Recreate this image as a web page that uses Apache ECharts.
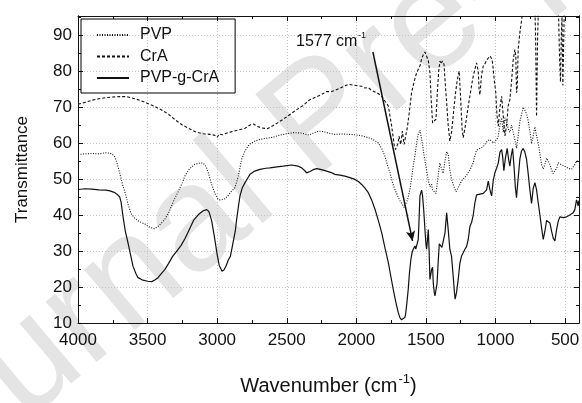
<!DOCTYPE html>
<html>
<head>
<meta charset="utf-8">
<script src="https://cdn.jsdelivr.net/npm/echarts@6/dist/echarts.min.js"></script>
<style>
  html, body { margin: 0; padding: 0; background: #fff; }
  #chart { width: 582px; height: 403px; }
</style>
</head>
<body>
<div id="chart"></div>
<script>
// FTIR spectra: [wavenumber (cm-1), transmittance]
const pvp = [
  [4000,56.8],[3950,57],[3900,57.1],[3850,57],[3800,57.3],[3770,57.2],[3740,56.5],[3720,54.5],[3700,51.6],
  [3680,48.5],[3660,46],[3640,43],[3620,40.5],[3590,39],[3560,38.2],[3520,37.5],[3480,36.5],[3450,36.2],
  [3420,37],[3380,38.6],[3350,40.5],[3310,44.2],[3280,46.5],[3250,49],[3230,51],[3200,52.8],[3160,54.1],
  [3120,54.5],[3100,54.4],[3080,53.5],[3064,51.8],[3040,48.5],[3016,46],[2995,44.5],[2980,44.2],[2960,44.3],
  [2944,44.5],[2920,45.5],[2900,46.5],[2872,47.6],[2848,50.8],[2824,55.5],[2800,57.8],[2770,59.6],[2730,60.5],
  [2693,61],[2650,61.3],[2600,61.6],[2550,62.2],[2500,62.6],[2450,62.9],[2400,62.8],[2370,62.5],[2357,62],
  [2340,62.2],[2300,62.9],[2270,63.3],[2240,63.2],[2213,62.9],[2180,62.6],[2154,62.4],[2100,62.5],[2050,62.4],
  [2010,62.3],[1960,62],[1914,61.5],[1880,61],[1842,60],[1818,58.5],[1795,56.4],[1770,53],[1758,51.8],
  [1740,49],[1722,47],[1705,45.5],[1687,44],[1670,43],[1656,42.1],[1645,42.3],[1630,44.5],[1615,47.1],
  [1600,51],[1590,54],[1579,56.4],[1565,60.5],[1555,62.5],[1543,63.6],[1530,61],[1519,58],[1507,55],
  [1495,52.5],[1483,49.5],[1471,47.9],[1459,48.5],[1452,47],[1440,46.5],[1428,46],[1415,50],[1400,54.4],
  [1388,53],[1376,51.6],[1363,55],[1351,57.6],[1340,57],[1328,52.5],[1316,50],[1300,48],[1284,46.5],
  [1270,47],[1256,48.5],[1244,49.5],[1230,50],[1208,51],[1196,51.8],[1184,52.5],[1172,53.5],[1160,54.5],
  [1148,56.5],[1136,58],[1124,58.5],[1112,58.5],[1100,58.8],[1088,59],[1076,59.5],[1064,60.3],[1052,60.6],
  [1040,61],[1028,61],[1016,60],[1004,59.5],[990,61],[980,62],[968,65],[956,67],[944,63],[932,67],
  [920,66],[909,64],[897,63],[885,65],[873,63],[861,61],[849,58.5],[837,62],[825,66],[813,68],[800,70],
  [788,70.5],[776,68],[764,66],[752,63],[741,59.8],[729,62],[717,64.5],[705,62],[693,60],[681,57],
  [669,54],[657,52.8],[645,54],[633,55.8],[621,55],[609,54],[597,52.5],[585,51.5],[573,51.3],[561,53],
  [549,54.5],[537,54.5],[525,54],[513,54],[501,53.5],[489,53.2],[477,53],[466,52.8],[454,52.7],[442,53],
  [430,54],[418,55],[406,55.3],[400,55]
];

const cra = [
  [4000,70.8],[3950,71.3],[3900,71.9],[3850,72.3],[3800,72.6],[3750,72.8],[3700,72.9],[3650,72.9],[3600,72.4],
  [3550,71.8],[3500,71],[3450,70.2],[3400,69.2],[3350,68],[3300,66.4],[3250,65],[3200,64],[3150,63],
  [3100,62.6],[3050,62.4],[3020,62.2],[3000,61.6],[2985,62.5],[2960,62.3],[2930,62.8],[2900,63.1],[2850,63.6],
  [2800,64.1],[2760,65.1],[2740,65.3],[2710,64.6],[2680,64.2],[2640,64],[2600,64.8],[2570,65.5],[2530,66.5],
  [2500,67.3],[2460,68.4],[2420,69.5],[2380,70.5],[2340,71.9],[2290,72.8],[2250,73.5],[2213,74.3],[2180,74.3],
  [2154,74.6],[2100,75.6],[2058,76.3],[2020,76.1],[1990,75.9],[1962,75.8],[1940,75.3],[1914,75.4],[1890,74.6],
  [1866,74.2],[1840,73.7],[1818,73],[1795,71.7],[1770,70.3],[1758,67.5],[1746,64.7],[1735,61.5],[1727,59.2],
  [1718,58.2],[1710,58.2],[1700,60],[1693,61.9],[1681,59.6],[1669,63.3],[1657,59.6],[1645,62],[1632,64.7],
  [1618,69],[1603,74],[1585,77],[1567,79.5],[1555,80.5],[1543,81.4],[1530,83.5],[1519,84.5],[1507,85.3],
  [1495,85.6],[1483,83],[1471,79.5],[1462,72],[1452,65.6],[1440,66],[1428,66.6],[1418,74],[1408,80],
  [1399,82.8],[1390,82],[1382,82.8],[1370,81.9],[1360,76],[1351,71.2],[1340,65],[1328,60.6],[1316,63],
  [1304,67.5],[1290,73],[1275,77.5],[1261,80],[1250,72],[1240,64],[1232,61.5],[1220,64],[1208,67],
  [1196,70.3],[1184,73],[1172,76],[1160,78.6],[1148,80.5],[1136,82.3],[1124,80],[1118,75],[1112,73.4],
  [1100,79],[1088,81.4],[1076,82],[1064,83],[1052,83.5],[1040,84.2],[1028,83.5],[1021,82.3],[1010,78],
  [998,74],[990,68],[980,64.7],[968,70],[956,73],[944,67.5],[932,62],[920,65],[909,70.3],[897,72],
  [885,77],[873,83],[861,86],[854,84],[849,74],[844,75],[837,86],[825,90.6],[813,94],[800,98],[789,101],
  [770,103],[740,104],[720,102],[712,90],[705,67.4],[698,88],[690,101],[669,104],[640,105],[600,104],
  [560,103],[548,98],[540,84],[533,77],[527,90],[522,95],[516,76],[510,88],[503,102],[480,104],[440,104],[400,104]
];

const pvpGCra = [
  [4000,47.1],[3950,47.3],[3900,47.2],[3850,47],[3800,46.9],[3770,46.7],[3740,46.3],[3720,45.8],[3700,45],
  [3690,43.5],[3677,39.7],[3660,35.5],[3641,32.3],[3620,28.5],[3605,25.8],[3585,23.8],[3569,22.6],[3540,22],
  [3500,21.6],[3470,21.5],[3445,22],[3425,22.6],[3400,23.8],[3375,24.9],[3350,26.5],[3320,28.5],[3290,30],
  [3260,31.5],[3231,33.5],[3200,36],[3170,38.5],[3130,40.3],[3100,41.2],[3075,41.5],[3060,41],[3040,38.5],
  [3020,34],[3000,29],[2985,26],[2965,24.4],[2950,24.8],[2935,26],[2920,27.5],[2905,28.5],[2890,31.5],
  [2870,35.5],[2860,38.8],[2845,43],[2836,45.3],[2820,47.5],[2800,49],[2780,50.3],[2764,51.3],[2730,52.2],
  [2693,52.7],[2650,53],[2621,53.1],[2570,53.4],[2525,53.6],[2465,53.9],[2420,53.6],[2393,53.1],[2370,52.3],
  [2357,51.7],[2345,51.8],[2333,52.1],[2310,52.6],[2285,52.9],[2250,52.6],[2213,52.2],[2180,51.8],[2154,51.3],
  [2118,51.1],[2082,50.8],[2046,50.4],[2010,49.9],[1985,49.3],[1962,48.5],[1938,47.5],[1914,46.2],[1890,44.2],
  [1866,41.6],[1842,38.5],[1818,35.1],[1795,31],[1770,26.8],[1750,22.5],[1735,19.4],[1720,16.5],[1710,14.7],
  [1698,12.8],[1687,11.5],[1675,10.9],[1663,10.8],[1652,11.5],[1646,12.4],[1637,15.5],[1627,19.4],[1618,24],
  [1608,27.7],[1600,29.5],[1591,30.5],[1585,31],[1579,31.4],[1573,30.5],[1567,30],[1561,31],[1555,33.2],
  [1549,39],[1543,45.3],[1531,46.9],[1524,45.3],[1515,41],[1507,36],[1500,32],[1495,30.5],[1489,33],
  [1483,36],[1477,30],[1471,22.1],[1465,22.5],[1459,24.9],[1452,25.5],[1447,21],[1440,18.5],[1435,17.5],
  [1428,17.2],[1420,21],[1412,26.8],[1404,32],[1394,32.3],[1385,31],[1376,30.5],[1363,35],[1351,40.6],
  [1340,36],[1328,30.5],[1316,28.5],[1304,23],[1295,18.5],[1290,16.6],[1280,18.5],[1268,22.1],[1256,26.6],
  [1244,28.6],[1232,29.5],[1220,30.5],[1208,31.2],[1196,33.2],[1184,36.8],[1172,37.9],[1160,40],[1148,43.4],
  [1136,45.6],[1124,45.7],[1112,45.8],[1100,45.9],[1088,46],[1076,46.2],[1064,47],[1052,49.4],[1040,47],
  [1028,45.3],[1016,49.7],[1004,51.8],[992,53],[980,54.5],[968,57.5],[956,58.2],[948,56],[940,52.3],
  [928,56],[916,58.5],[906,55.5],[897,53.6],[887,56.5],[877,58.5],[866,53],[857,47.5],[849,44.8],[840,49],
  [825,55.5],[813,57.8],[801,58.5],[789,57.5],[777,55.5],[765,51.5],[753,47],[741,43.2],[729,47.4],[717,49],
  [705,47],[693,43.4],[681,40],[669,36.5],[657,33.2],[645,35.5],[633,38.5],[621,38.6],[609,37.8],[597,35.5],
  [585,33.5],[573,32.8],[561,36],[549,38.3],[537,39.5],[525,39.5],[513,39.3],[501,39.3],[489,39.5],[477,39.7],
  [466,40],[454,40.2],[442,40.6],[430,41.5],[418,44.2],[412,43.5],[406,42.5],[401,44]
];

const seriesNames = ['PVP', 'CrA', 'PVP-g-CrA'];
const arrowFrom = [1881, 85.3];
const arrowTo = [1596, 32.8];

const font = 'Liberation Sans, Arial, sans-serif';
const ink = '#111';

var myChart = echarts.init(document.getElementById('chart'));

function xAxisBase(pos) {
  return {
    type: 'value', position: pos, inverse: true, min: 400, max: 4000, splitNumber: 7,
    axisLine: { show: true, onZero: false, lineStyle: { color: ink, width: 1 } },
    axisTick: { show: true, inside: true, length: 5, lineStyle: { color: ink } },
    minorTick: { show: true, splitNumber: 2, length: 3, lineStyle: { color: ink } },
    splitLine: { show: false },
    axisLabel: { show: false }
  };
}
function yAxisBase(pos, interval, len) {
  return {
    type: 'value', position: pos, min: 10, max: 95.3, interval: interval,
    axisLine: { show: true, onZero: false, lineStyle: { color: ink, width: 1 } },
    axisTick: { show: true, inside: true, length: len, lineStyle: { color: ink } },
    splitLine: { show: false },
    axisLabel: { show: false }
  };
}

const xBottom = xAxisBase('bottom');
xBottom.axisLabel = {
  show: true, margin: 9, color: ink, fontSize: 17, fontFamily: font,
  formatter: v => (v % 500 === 0 ? String(v) : '')
};
xBottom.splitLine = { show: true, lineStyle: { color: '#c4c4c4', type: [1, 2], width: 1 } };
xBottom.name = '{a|Wavenumber (cm}{s|-1}{a|)}';
xBottom.nameLocation = 'middle';
xBottom.nameGap = 50;
xBottom.nameTextStyle = {
  rich: {
    a: { fontSize: 20, fontFamily: font, color: ink },
    s: { fontSize: 13, fontFamily: font, color: ink, padding: [0, 0, 14, 1] }
  }
};

const yLeft = yAxisBase('left', 10, 5);
yLeft.axisLabel = {
  show: true, margin: 6, color: ink, fontSize: 17, fontFamily: font,
  formatter: v => (v % 10 === 0 ? String(v) : '')
};
yLeft.splitLine = { show: true, lineStyle: { color: '#c4c4c4', type: [1, 2], width: 1 } };
yLeft.name = 'Transmittance';
yLeft.nameLocation = 'middle';
yLeft.nameGap = 47;
yLeft.nameTextStyle = { fontSize: 17, fontFamily: font, color: ink };

const option = {
  animation: false,
  backgroundColor: '#fff',
  grid: { left: 78, right: 3, top: 16, bottom: 80, containLabel: false, outerBoundsMode: 'none' },
  legend: {
    data: seriesNames,
    orient: 'vertical',
    left: 81, top: 19,
    padding: [8, 16, 7, 15],
    itemGap: 5.5,
    itemWidth: 32, itemHeight: 16,
    borderColor: '#000', borderWidth: 1,
    itemStyle: { opacity: 0 },
    textStyle: { fontSize: 16, fontFamily: font, color: ink, padding: [0, 0, 0, 6] }
  },
  graphic: [
    {
      type: 'text', x: -75, y: 550, rotation: 40 * Math.PI / 180, z: -10, silent: true,
      style: { text: 'Journal Pre-proof', fontSize: 150, fontFamily: font, fill: '#e4e4e4', textVerticalAlign: 'bottom' }
    },
    {
      type: 'text', left: 296, top: 34, z: 10,
      style: { text: '1577 cm', fontSize: 16, fontFamily: font, fill: ink }
    },
    {
      type: 'text', left: 358, top: 31, z: 10,
      style: { text: '-1', fontSize: 9, fontFamily: font, fill: ink }
    }
  ],
  xAxis: [xBottom, xAxisBase('top')],
  yAxis: [yLeft, yAxisBase('left', 5, 3), yAxisBase('right', 10, 5), yAxisBase('right', 5, 3)],
  series: [
    {
      name: seriesNames[0], type: 'line', data: pvp, symbol: 'none', clip: true,
      lineStyle: { color: ink, width: 1.1, type: [1, 1.5] }, itemStyle: { color: ink }
    },
    {
      name: seriesNames[1], type: 'line', data: cra, symbol: 'none', clip: true,
      lineStyle: { color: ink, width: 1.1, type: [3, 2] }, itemStyle: { color: ink }
    },
    {
      name: seriesNames[2], type: 'line', data: pvpGCra, symbol: 'none', clip: true,
      lineStyle: { color: ink, width: 1.2, type: 'solid' }, itemStyle: { color: ink },
      markLine: {
        silent: true, symbol: ['none', 'arrow'], symbolSize: [7, 10],
        lineStyle: { color: ink, width: 1.5, type: 'solid' },
        label: { show: false },
        data: [[{ coord: arrowFrom }, { coord: arrowTo }]]
      }
    }
  ]
};

option && myChart.setOption(option);
</script>
</body>
</html>
